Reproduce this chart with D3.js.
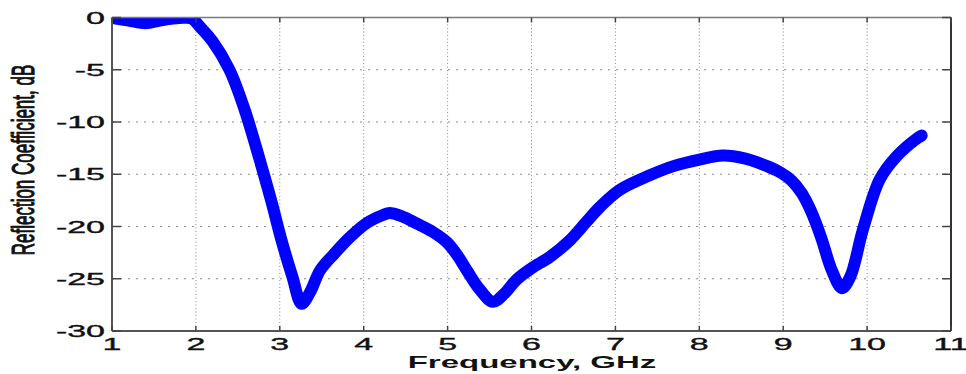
<!DOCTYPE html>
<html>
<head>
<meta charset="utf-8">
<script src="https://cdn.jsdelivr.net/npm/d3@7"></script>
<style>
  html, body { margin: 0; padding: 0; background: #fff; }
  svg { display: block; }
</style>
</head>
<body>
<svg id="chart" width="966" height="374"></svg>
<script>
// Measured reflection coefficient of the antenna
const freqGHz = [1.0, 1.2, 1.4, 1.6, 1.8, 1.95, 2.05, 2.2, 2.4, 2.58, 2.76, 2.9, 3.02, 3.15, 3.26,
  3.36, 3.48, 3.65, 3.84, 4.05, 4.23, 4.31, 4.45, 4.63, 4.82, 4.99, 5.12, 5.23, 5.38, 5.54,
  5.68, 5.82, 6.0, 6.22, 6.46, 6.65, 6.82, 7.05, 7.41, 7.7, 8.0, 8.28, 8.55, 8.8, 8.96,
  9.1, 9.22, 9.33, 9.45, 9.58, 9.7, 9.8, 9.95, 10.15, 10.35, 10.59, 10.65];
const reflectionDb = [-0.05, -0.3, -0.55, -0.25, -0.05, -0.1, -0.9, -2.3, -5, -8.8, -13.6, -17.6, -21.3, -24.8, -27.4,
  -26.3, -24.2, -22.6, -21, -19.6, -18.9, -18.7, -19, -19.7, -20.5, -21.5, -22.8, -24.2, -26, -27.2,
  -26.4, -25.1, -24, -22.9, -21.3, -19.6, -18.1, -16.5, -15.1, -14.2, -13.6, -13.2, -13.5, -14.2, -14.8,
  -15.6, -16.8, -18.5, -21, -24.2, -25.9, -24.8, -20.3, -15.5, -13.3, -11.6, -11.3];
const xTicks = [1, 2, 3, 4, 5, 6, 7, 8, 9, 10, 11];
const yTicks = [0, -5, -10, -15, -20, -25, -30];
const xLabel = "Frequency, GHz";
const yLabel = "Reflection Coefficient, dB";

const svg = d3.select("#chart");
const plotLeft = 112, plotRight = 951, plotTop = 17.5, plotBottom = 331;
const stretch = 2.0; // glyphs are drawn horizontally widened

const x = d3.scaleLinear().domain([1, 11]).range([plotLeft, plotRight]);
const y = d3.scaleLinear().domain([-30, 0]).range([plotBottom, plotTop]);

// Dotted grid
const grid = svg.append("g");
grid.selectAll("line.v").data(xTicks.slice(1, -1)).join("line")
  .attr("class", "v")
  .attr("x1", d => x(d)).attr("x2", d => x(d))
  .attr("y1", plotTop).attr("y2", plotBottom)
  .attr("stroke", "#8a8a8a").attr("stroke-width", 1)
  .attr("stroke-dasharray", "1,2.5");
grid.selectAll("line.h").data(yTicks.slice(1, -1)).join("line")
  .attr("class", "h")
  .attr("x1", plotLeft).attr("x2", plotRight)
  .attr("y1", d => y(d)).attr("y2", d => y(d))
  .attr("stroke", "#8a8a8a").attr("stroke-width", 1.2)
  .attr("stroke-dasharray", "2,6");

// Curve, clipped to the axes box
svg.append("clipPath").attr("id", "plotClip")
  .append("rect").attr("x", plotLeft).attr("y", plotTop)
  .attr("width", plotRight - plotLeft).attr("height", plotBottom - plotTop);

const pts = freqGHz.map((f, i) => [f, reflectionDb[i]]);
const line = d3.line().x(d => x(d[0])).y(d => y(d[1])).curve(d3.curveCatmullRom.alpha(0.5));
svg.append("path")
  .attr("clip-path", "url(#plotClip)")
  .attr("d", line(pts))
  .attr("fill", "none")
  .attr("stroke", "#0000ff")
  .attr("stroke-width", 12)
  .attr("stroke-linejoin", "round")
  .attr("stroke-linecap", "round");

// Axes box
const box = svg.append("g");
box.append("line").attr("x1", plotLeft).attr("x2", plotRight).attr("y1", plotTop).attr("y2", plotTop)
  .attr("stroke", "#7a7a7a").attr("stroke-width", 1.5);
box.append("line").attr("x1", plotLeft).attr("x2", plotLeft).attr("y1", plotTop).attr("y2", plotBottom)
  .attr("stroke", "#555").attr("stroke-width", 2);
box.append("line").attr("x1", plotRight).attr("x2", plotRight).attr("y1", plotTop).attr("y2", plotBottom)
  .attr("stroke", "#333").attr("stroke-width", 2);
box.append("line").attr("x1", plotLeft).attr("x2", plotRight).attr("y1", plotBottom).attr("y2", plotBottom)
  .attr("stroke", "#555").attr("stroke-width", 2);

// Inward tick marks on all four sides
const tk = svg.append("g").attr("stroke", "#444").attr("stroke-width", 1.5);
xTicks.forEach(d => {
  tk.append("line").attr("x1", x(d)).attr("x2", x(d)).attr("y1", plotBottom).attr("y2", plotBottom - 5);
  tk.append("line").attr("x1", x(d)).attr("x2", x(d)).attr("y1", plotTop).attr("y2", plotTop + 5);
});
yTicks.forEach(d => {
  tk.append("line").attr("x1", plotLeft).attr("x2", plotLeft + 9).attr("y1", y(d)).attr("y2", y(d));
  tk.append("line").attr("x1", plotRight).attr("x2", plotRight - 9).attr("y1", y(d)).attr("y2", y(d));
});

const font = "'Liberation Sans', Arial, Helvetica, sans-serif";

// Tick labels (a hairline stroke gives the glyphs a little more weight)
svg.append("g").selectAll("text").data(xTicks).join("text")
  .attr("transform", d => `translate(${x(d)},350) scale(${stretch},1)`)
  .attr("text-anchor", "middle")
  .attr("font-family", font).attr("font-size", 17)
  .attr("fill", "#111").attr("stroke", "#111").attr("stroke-width", 0.35)
  .text(d => d);

svg.append("g").selectAll("text").data(yTicks).join("text")
  .attr("transform", d => `translate(105,${y(d) + 6}) scale(${stretch},1)`)
  .attr("text-anchor", "end")
  .attr("font-family", font).attr("font-size", 17)
  .attr("fill", "#111").attr("stroke", "#111").attr("stroke-width", 0.35)
  .text(d => d === 0 ? "0" : "-" + Math.abs(d));

// Axis titles
svg.append("text")
  .attr("transform", `translate(532,368) scale(${stretch},1)`)
  .attr("text-anchor", "middle")
  .attr("font-family", font).attr("font-size", 16.5).attr("font-weight", "bold")
  .attr("fill", "#111")
  .text(xLabel);

svg.append("text")
  .attr("transform", `translate(34,160) scale(1.8,1) rotate(-90)`)
  .attr("text-anchor", "middle")
  .attr("font-family", font).attr("font-size", 17)
  .attr("fill", "#111").attr("stroke", "#111").attr("stroke-width", 0.6)
  .text(yLabel);
</script>
</body>
</html>
